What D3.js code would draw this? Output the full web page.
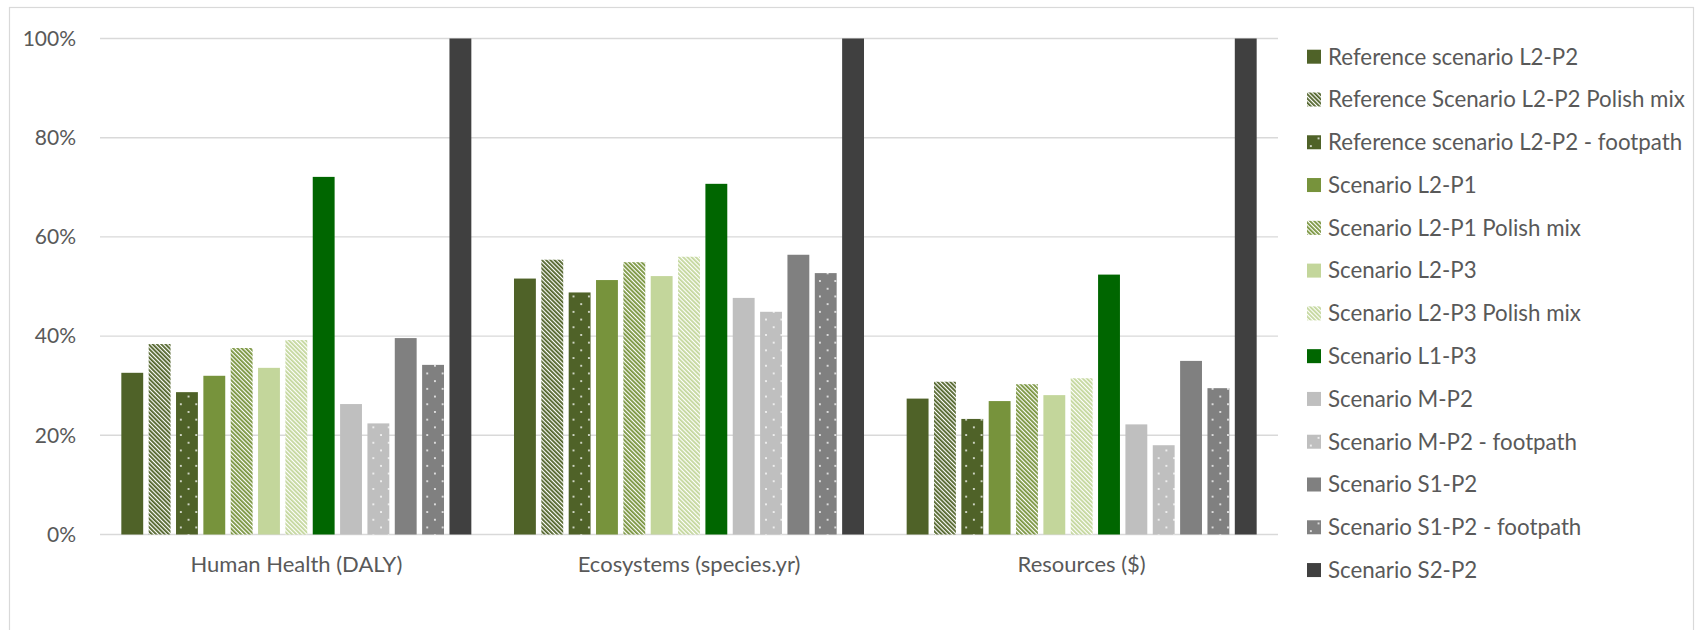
<!DOCTYPE html>
<html>
<head>
<meta charset="utf-8">
<script src="https://cdn.jsdelivr.net/npm/d3@7"></script>
<style>
  html, body { margin: 0; padding: 0; background: #fff; }
  svg { display: block; }
  text { font-family: Lato, "Noto Sans", sans-serif; fill: #595959; }
</style>
</head>
<body>
<svg id="chart" width="1695" height="630"></svg>
<script>
// Impact categories on the x axis
const categories = ["Human Health (DALY)", "Ecosystems (species.yr)", "Resources ($)"];

// Scenario series, in legend order
const scenarios = [
  "Reference scenario L2-P2",
  "Reference Scenario L2-P2 Polish mix",
  "Reference scenario L2-P2 - footpath",
  "Scenario L2-P1",
  "Scenario L2-P1 Polish mix",
  "Scenario L2-P3",
  "Scenario L2-P3 Polish mix",
  "Scenario L1-P3",
  "Scenario M-P2",
  "Scenario M-P2 - footpath",
  "Scenario S1-P2",
  "Scenario S1-P2 - footpath",
  "Scenario S2-P2"
];

// Relative impact (% of the highest scenario) for each category
const humanHealth = [32.6, 38.4, 28.7, 32.0, 37.6, 33.6, 39.2, 72.1, 26.3, 22.4, 39.6, 34.2, 100];
const ecosystems  = [51.6, 55.4, 48.8, 51.3, 54.9, 52.1, 56.0, 70.7, 47.7, 44.9, 56.4, 52.7, 100];
const resources   = [27.4, 30.8, 23.3, 26.9, 30.3, 28.1, 31.5, 52.4, 22.2, 18.0, 35.0, 29.5, 100];

// Y axis ticks
const yTicks = [0, 20, 40, 60, 80, 100];

// Series appearance: base colour and fill kind (solid, stripes, dots)
const seriesColors = ["#4f6228", "#4f6228", "#4f6228", "#77933c", "#77933c", "#c3d69b", "#c3d69b",
                      "#006600", "#bfbfbf", "#bfbfbf", "#808080", "#808080", "#404040"];
const seriesFills  = ["solid", "stripes", "dots", "solid", "stripes", "solid", "stripes",
                      "solid", "solid", "dots", "solid", "dots", "solid"];

const valuesByCategory = [humanHealth, ecosystems, resources];
const table = categories.map((c, ci) => ({
  category: c,
  values: scenarios.map((s, si) => ({ series: si, value: valuesByCategory[ci][si] }))
}));

const svg = d3.select("#chart");
const plot = { left: 100, right: 1278, top: 38.5, bottom: 534.5 };

// Outer chart frame
svg.append("rect")
  .attr("x", 9.5).attr("y", 7.5)
  .attr("width", 1684).attr("height", 660)
  .attr("fill", "none").attr("stroke", "#d9d9d9").attr("stroke-width", 1.2);

// Fill patterns
const defs = svg.append("defs");
function fillFor(i) {
  const kind = seriesFills[i], color = seriesColors[i];
  if (kind === "solid") return color;
  const id = "pat" + i;
  if (kind === "stripes") {
    const p = defs.append("pattern")
      .attr("id", id).attr("patternUnits", "userSpaceOnUse")
      .attr("width", 3).attr("height", 10)
      .attr("patternTransform", "rotate(-45)");
    p.append("rect").attr("width", 3).attr("height", 10).attr("fill", "#fff");
    p.append("rect").attr("width", 1.8).attr("height", 10).attr("fill", color);
  } else {
    const p = defs.append("pattern")
      .attr("id", id).attr("patternUnits", "userSpaceOnUse")
      .attr("width", 15.4).attr("height", 15.4);
    p.append("rect").attr("width", 15.4).attr("height", 15.4).attr("fill", color);
    p.append("circle").attr("cx", 3.85).attr("cy", 3.85).attr("r", 1.05).attr("fill", "#fff").attr("fill-opacity", 0.9);
    p.append("circle").attr("cx", 11.55).attr("cy", 11.55).attr("r", 1.05).attr("fill", "#fff").attr("fill-opacity", 0.9);
  }
  return "url(#" + id + ")";
}
const fills = scenarios.map((s, i) => fillFor(i));

// Scales
const x0 = d3.scaleBand().domain(categories).range([plot.left, plot.right]).paddingInner(0).paddingOuter(0);
const x1 = d3.scaleBand().domain(d3.range(scenarios.length)).range([0, x0.bandwidth()])
  .paddingInner(0.2).paddingOuter(0.78);
const y = d3.scaleLinear().domain([0, 100]).range([plot.bottom, plot.top]);

// Gridlines
svg.append("g")
  .selectAll("line").data(yTicks).join("line")
  .attr("x1", plot.left).attr("x2", plot.right)
  .attr("y1", d => y(d)).attr("y2", d => y(d))
  .attr("stroke", "#d9d9d9").attr("stroke-width", 1.4);

// Y axis labels
const yAxis = svg.append("g")
  .attr("transform", `translate(${plot.left},0)`)
  .call(d3.axisLeft(y).tickValues(yTicks).tickFormat(d => d + "%").tickSize(0).tickPadding(24));
yAxis.select(".domain").remove();
yAxis.selectAll("text").attr("font-size", 21).attr("fill", "#595959")
  .style("font-family", "Lato, 'Noto Sans', sans-serif");

// Bars
svg.append("g")
  .selectAll("g").data(table).join("g")
  .attr("transform", d => `translate(${x0(d.category)},0)`)
  .selectAll("rect").data(d => d.values).join("rect")
  .attr("x", d => x1(d.series))
  .attr("width", x1.bandwidth())
  .attr("y", d => y(d.value))
  .attr("height", d => y(0) - y(d.value))
  .attr("fill", d => fills[d.series]);

// X axis labels
const xAxis = svg.append("g")
  .attr("transform", `translate(0,${plot.bottom})`)
  .call(d3.axisBottom(x0).tickSize(0).tickPadding(22));
xAxis.select(".domain").remove();
xAxis.selectAll("text").attr("font-size", 22).attr("fill", "#595959")
  .style("font-family", "Lato, 'Noto Sans', sans-serif");

// Legend
const legend = svg.append("g").attr("transform", "translate(1307,56.7)");
const item = legend.selectAll("g").data(scenarios).join("g")
  .attr("transform", (d, i) => `translate(0,${i * 42.78})`);
item.append("rect")
  .attr("x", 0).attr("y", -7).attr("width", 14).attr("height", 14)
  .attr("fill", (d, i) => fills[i]);
item.append("text")
  .attr("x", 21).attr("y", 0).attr("dy", "0.35em")
  .attr("font-size", 22.3)
  .text(d => d);
</script>
</body>
</html>
